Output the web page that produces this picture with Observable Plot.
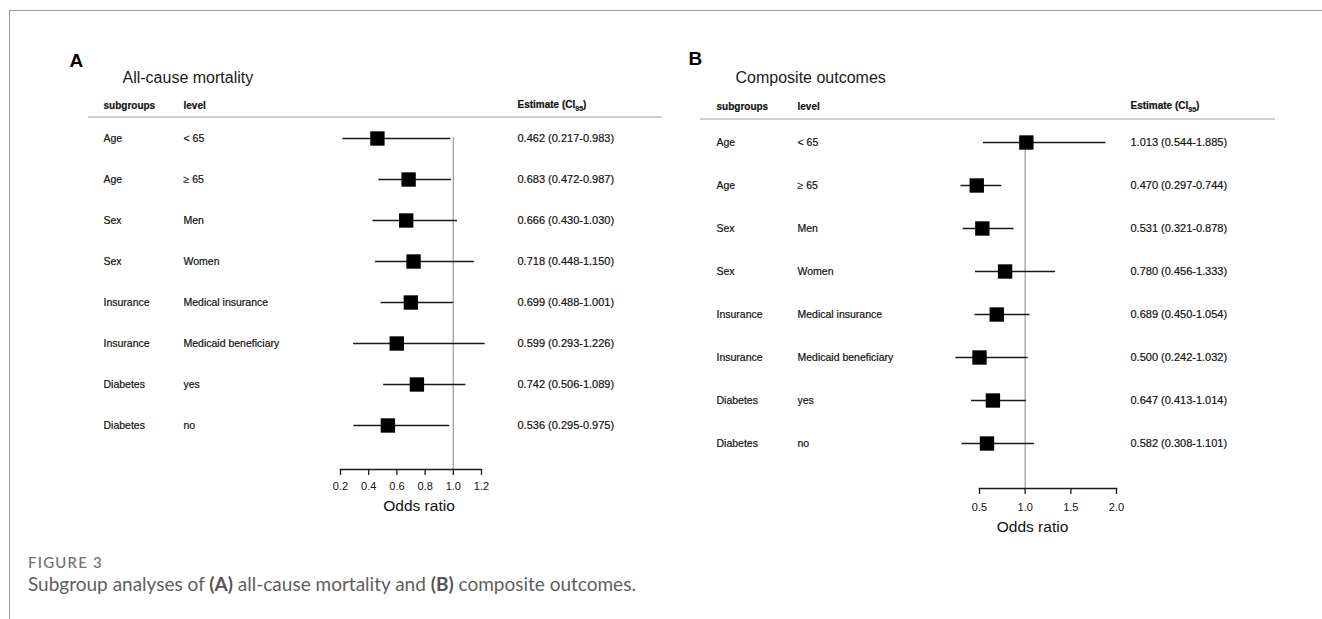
<!DOCTYPE html>
<html>
<head>
<meta charset="utf-8">
<script src="https://cdn.jsdelivr.net/npm/d3@7"></script>
<script src="https://cdn.jsdelivr.net/npm/@observablehq/plot@0.6"></script>
<style>
  html, body { margin: 0; padding: 0; background: #fff; }
  #page { position: relative; width: 1322px; height: 619px; overflow: hidden; background: #fff; }
  #border { position: absolute; left: 9px; top: 10px; right: -5px; bottom: -5px;
            border-top: 1.5px solid #9c9c9c; border-left: 1.5px solid #9c9c9c; }
  .panel { position: absolute; top: 0; }
  .hline { position: absolute; height: 2px; background: #cfcfcf; }
  #figlabel { position: absolute; left: 28px; top: 555px; font: 500 15px Lato, "Open Sans", sans-serif;
              line-height: 15px; color: #707070; letter-spacing: 1.2px; }
  #caption { position: absolute; left: 28px; top: 574px; font: 19px Lato, "Open Sans", sans-serif;
             line-height: 20px; color: #5e5e5e; white-space: nowrap; }
  #caption b { font-weight: 700; color: #555; }
</style>
</head>
<body>
<div id="page">
  <div id="border"></div>
  <div class="hline" style="left:88px; top:116px; width:574px;"></div>
  <div class="hline" style="left:700px; top:118px; width:575px;"></div>
  <div id="panelA" class="panel" style="left:60px;"></div>
  <div id="panelB" class="panel" style="left:680px;"></div>
  <div id="figlabel"></div>
  <div id="caption"></div>
</div>
<script>
// ---------- data ----------
const subgroups = ["Age", "Age", "Sex", "Sex", "Insurance", "Insurance", "Diabetes", "Diabetes"];
const levels = ["< 65", "\u2265 65", "Men", "Women", "Medical insurance", "Medicaid beneficiary", "yes", "no"];

// (A) all-cause mortality
const estA = [0.462, 0.683, 0.666, 0.718, 0.699, 0.599, 0.742, 0.536];
const loA  = [0.217, 0.472, 0.430, 0.448, 0.488, 0.293, 0.506, 0.295];
const hiA  = [0.983, 0.987, 1.030, 1.150, 1.001, 1.226, 1.089, 0.975];
const ticksA = [0.2, 0.4, 0.6, 0.8, 1.0, 1.2];

// (B) composite outcomes
const estB = [1.013, 0.470, 0.531, 0.780, 0.689, 0.500, 0.647, 0.582];
const loB  = [0.544, 0.297, 0.321, 0.456, 0.450, 0.242, 0.413, 0.308];
const hiB  = [1.885, 0.744, 0.878, 1.333, 1.054, 1.032, 1.014, 1.101];
const ticksB = [0.5, 1.0, 1.5, 2.0];

const headers = ["subgroups", "level", "Estimate (CI95)"];
const xLabel = "Odds ratio";
const titleA = "All-cause mortality";
const titleB = "Composite outcomes";
const figLabel = "FIGURE 3";
const captionParts = ["Subgroup analyses of ", "(A)", " all-cause mortality and ", "(B)", " composite outcomes."];

// ---------- drawing ----------
const f3 = d3.format(".3f");
function rowsOf(est, lo, hi) {
  return est.map((e, i) => ({
    i, sub: subgroups[i], lev: levels[i], est: e, lo: lo[i], hi: hi[i],
    label: `${f3(e)} (${f3(lo[i])}-${f3(hi[i])})`
  }));
}

function forest(rows, cfg) {
  const font = "Liberation Sans, Arial, sans-serif";
  const txt = {fill: "#111", stroke: "#111", strokeWidth: 0.2, fontFamily: font, lineAnchor: "middle"};
  const svg = Plot.plot({
    width: cfg.width, height: cfg.height,
    marginLeft: cfg.marginLeft, marginRight: cfg.marginRight,
    marginTop: cfg.marginTop, marginBottom: cfg.marginBottom,
    style: {fontFamily: font, fontSize: "11px", color: "#111", background: "transparent", overflow: "visible"},
    x: {domain: cfg.domain, axis: null},
    y: {type: "point", domain: d3.range(rows.length), range: cfg.yRange, padding: 0, axis: null},
    marks: [
      Plot.ruleX([1], {stroke: "#a0a0a0", strokeWidth: 1.3}),
      Plot.ruleY(rows, {y: "i", x1: "lo", x2: "hi", stroke: "#1a1a1a", strokeWidth: 1.6}),
      Plot.dot(rows, {x: "est", y: "i", symbol: "square", r: 8.1, fill: "#000", stroke: null}),
      Plot.text(rows, {y: "i", text: "sub", frameAnchor: "left", dx: cfg.dxSub, textAnchor: "start", fontSize: 10.5, ...txt}),
      Plot.text(rows, {y: "i", text: "lev", frameAnchor: "left", dx: cfg.dxLev, textAnchor: "start", fontSize: 10.5, ...txt}),
      Plot.text(rows, {y: "i", text: "label", frameAnchor: "right", dx: cfg.dxEst, textAnchor: "start", fontSize: 11, ...txt}),
      Plot.text([headers[0]], {text: d => d, frameAnchor: "top-left", dx: cfg.dxSub, dy: cfg.dyHead, textAnchor: "start", fontSize: 10, fontWeight: "bold", ...txt}),
      Plot.text([headers[1]], {text: d => d, frameAnchor: "top-left", dx: cfg.dxLev, dy: cfg.dyHead, textAnchor: "start", fontSize: 10, fontWeight: "bold", ...txt}),
      Plot.text([headers[2]], {text: d => d, frameAnchor: "top-right", dx: cfg.dxEst, dy: cfg.dyHead - 1, textAnchor: "start", fontSize: 10, fontWeight: "bold", ...txt}),
      Plot.text([cfg.title], {text: d => d, frameAnchor: "top-left", dx: cfg.dxTitle, dy: cfg.dyTitle, textAnchor: "start", lineAnchor: "middle", fontSize: 16, fill: "#1a1a1a", fontFamily: font}),
      Plot.text([cfg.letter], {text: d => d, frameAnchor: "top-left", dx: cfg.dxLetter, dy: cfg.dyLetter, textAnchor: "start", lineAnchor: "middle", fontSize: 19, fontWeight: "bold", fill: "#000", fontFamily: font}),
      Plot.frame({anchor: "bottom", stroke: "#1a1a1a", strokeWidth: 1.3}),
      Plot.axisX(cfg.ticks, {tickSize: 6, tickPadding: cfg.tickPadding, fontSize: 11, tickFormat: d3.format(".1f"), stroke: "#1a1a1a", strokeWidth: 1.3, label: null}),
      Plot.text([xLabel], {text: d => d, frameAnchor: "bottom", dx: cfg.dxLabel, dy: cfg.dyLabel, lineAnchor: "middle", fontSize: 15.5, fill: "#111", fontFamily: font})
    ]
  });
  // subscript for CI95
  svg.querySelectorAll("text").forEach(t => {
    if (t.textContent === headers[2]) {
      t.textContent = "Estimate (CI";
      const ns = "http://www.w3.org/2000/svg";
      const s = document.createElementNS(ns, "tspan");
      s.setAttribute("font-size", "7");
      s.setAttribute("dy", "3");
      s.textContent = "95";
      const c = document.createElementNS(ns, "tspan");
      c.setAttribute("dy", "-3");
      c.textContent = ")";
      t.appendChild(s); t.appendChild(c);
    }
  });
  return svg;
}

document.getElementById("panelA").appendChild(forest(rowsOf(estA, loA, hiA), {
  width: 610, height: 530, marginLeft: 280, marginRight: 189, marginTop: 137, marginBottom: 61,
  domain: [0.2, 1.2], ticks: ticksA, yRange: [137, 425],
  dxSub: -237, dxLev: -157, dxEst: 36, dyHead: -32,
  title: titleA, dxTitle: -218, dyTitle: -60,
  letter: "A", dxLetter: -271, dyLetter: -77,
  tickPadding: 7, dxLabel: 8, dyLabel: 37
}));

document.getElementById("panelB").appendChild(forest(rowsOf(estB, loB, hiB), {
  width: 610, height: 550, marginLeft: 299, marginRight: 174, marginTop: 142, marginBottom: 62,
  domain: [0.5, 2.0], ticks: ticksB, yRange: [142, 443],
  dxSub: -263, dxLev: -182, dxEst: 14, dyHead: -36,
  title: titleB, dxTitle: -244, dyTitle: -65,
  letter: "B", dxLetter: -291, dyLetter: -84,
  tickPadding: 9, dxLabel: -15.5, dyLabel: 39
}));

document.getElementById("figlabel").textContent = figLabel;
const cap = document.getElementById("caption");
captionParts.forEach((p, k) => {
  const el = document.createElement(k % 2 ? "b" : "span");
  el.textContent = p;
  cap.appendChild(el);
});
</script>
</body>
</html>
